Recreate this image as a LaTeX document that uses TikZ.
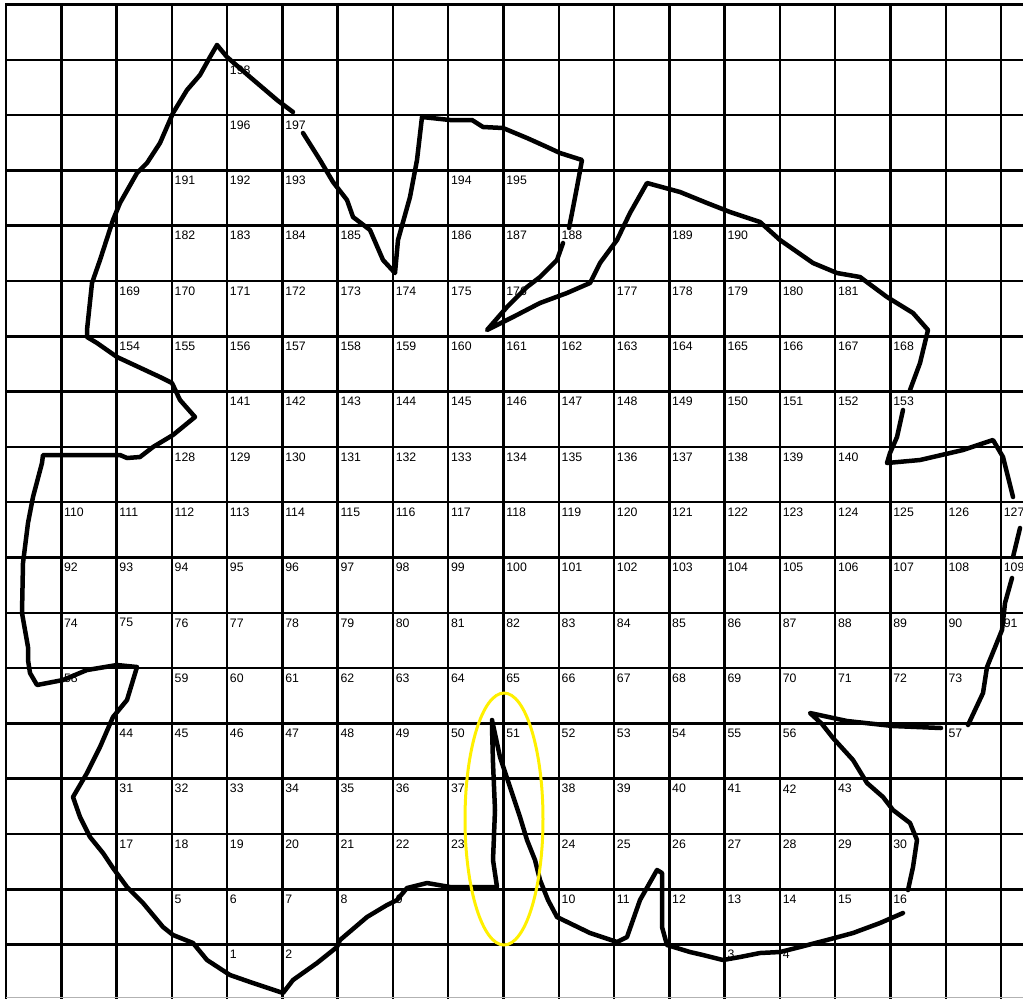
\documentclass[tikz,border=0pt]{standalone}
\usepackage{fontspec}
\setmainfont{Liberation Sans}
\usetikzlibrary{positioning}
\definecolor{ringyellow}{HTML}{FFF000}

\begin{document}
\begin{tikzpicture}[x=0.02cm, y=-0.02cm,
    gridline/.style={line width=0.05cm, line cap=rect},
    outline/.style={line width=0.09cm, line join=round, line cap=round},
    cellno/.style={anchor=west, inner sep=0pt, font=\fontsize{7}{8}\selectfont}]
  \useasboundingbox (0,0) rectangle (1023,998);
  \fill[white] (0,0) rectangle (1023,998);
  % grid
  \foreach \i in {0,...,18}
    \draw[gridline] ({6+55.28*\i},4.5) -- ({6+55.28*\i},998);
  \foreach \j in {0,...,17}
    \draw[gridline] (6,{4.5+55.3*\j}) -- (1023,{4.5+55.3*\j});
  \draw[gray!60, line width=0.02cm] (6,997) -- (1023,997);
  % cell numbers: row/first col/last col/offset
  \foreach \r/\a/\b/\o in {1/4/4/194, 2/4/5/192, 3/3/5/188, 3/8/9/186,
      4/3/6/179, 4/8/10/178, 4/12/13/177, 5/2/9/167, 5/11/15/166,
      6/2/16/152, 7/4/16/137, 8/3/15/125, 9/1/18/109, 10/1/18/91,
      11/1/18/73, 12/1/1/57, 12/3/17/56, 13/2/14/42, 13/17/17/40,
      14/2/8/29, 14/10/15/28, 15/2/8/15, 15/10/16/14, 16/3/7/2,
      16/10/16/0, 17/4/5/-3, 17/13/14/-10} {
    \foreach \c in {\a,...,\b} {
      \pgfmathtruncatemacro\n{\c+\o}
      \node[cellno] (cell\n) at ({8.5+55.28*\c},{14.5+55.3*\r}) {\n};
    }}
  % outline
  \draw[outline] (217,45) -- (227,57) -- (250,77) -- (277,100) -- (293,112)
    (303,133) -- (320,160) -- (333,182) -- (347,200) -- (353,217) -- (370,230)
      -- (383,260) -- (395,273) -- (398,240) -- (410,197) -- (417,160) -- (422,117)
      -- (450,120) -- (472,120) -- (483,127) -- (503,128) -- (527,138) -- (547,147)
      -- (560,153) -- (582,160) -- (577,187) -- (572,213) -- (569,228)
    (563,243) -- (557,260) -- (540,277) -- (527,287) -- (507,307) -- (487,330)
      -- (513,317) -- (540,303) -- (567,293) -- (590,283) -- (600,263) -- (617,240)
      -- (630,213) -- (647,183) -- (680,192) -- (707,203) -- (730,212) -- (760,222)
      -- (780,240) -- (813,263) -- (837,273) -- (860,277) -- (887,297) -- (913,313)
      -- (928,330) -- (920,363) -- (910,390)
    (903,410) -- (897,437) -- (890,453) -- (887,463) -- (920,460) -- (963,450)
      -- (993,440) -- (1003,457) -- (1013,497)
    (1020,528) -- (1013,557)
    (1012,578) -- (1005,603) -- (1002,630) -- (987,667) -- (983,693) -- (968,725)
    (941,728) -- (893,726) -- (847,721) -- (810,713) -- (822,724) -- (833,738)
      -- (853,760) -- (867,783) -- (883,797) -- (893,810) -- (910,823) -- (917,840)
      -- (913,867) -- (908,890)
    (903,913) -- (880,923) -- (853,933) -- (827,940) -- (800,947) -- (780,952)
      -- (760,953) -- (740,957) -- (723,960) -- (703,955) -- (690,952) -- (667,945)
      -- (662,927) -- (662,873) -- (657,870) -- (640,900) -- (627,937) -- (617,942)
      -- (590,933) -- (557,917) -- (548,900) -- (540,880) -- (535,860) -- (527,840)
      -- (520,817) -- (510,787) -- (500,757) -- (492,720) -- (492,727) -- (493,763)
      -- (495,810) -- (493,860) -- (497,887) -- (473,887) -- (450,887) -- (427,883)
      -- (407,888) -- (397,900) -- (387,905) -- (367,917) -- (340,940) -- (337,947)
      -- (317,963) -- (293,980) -- (283,993) -- (253,983) -- (230,975) -- (207,960)
      -- (193,943) -- (173,935) -- (163,927) -- (143,903) -- (127,887) -- (113,868)
      -- (103,853) -- (90,837) -- (80,817) -- (73,797) -- (87,773) -- (100,747)
      -- (113,717) -- (127,700) -- (137,667) -- (117,665) -- (87,670) -- (63,680)
      -- (37,685) -- (30,673) -- (28,660) -- (28,647) -- (22,613) -- (23,563)
      -- (28,523) -- (33,497) -- (42,463) -- (43,455) -- (120,455) -- (127,458)
      -- (140,457) -- (153,447) -- (173,435) -- (195,417) -- (180,400) -- (172,383)
      -- (160,377) -- (117,357) -- (97,343) -- (87,337) -- (87,330) -- (92,283)
      -- (100,260) -- (113,220) -- (120,203) -- (137,173) -- (147,163) -- (160,143)
      -- (173,113) -- (187,90) -- (200,75) -- (210,57) -- (217,45);
  % marked spike
  \draw[ringyellow, line width=0.06cm] (504,819) ellipse [x radius=0.78cm, y radius=2.52cm];
\end{tikzpicture}
\end{document}
